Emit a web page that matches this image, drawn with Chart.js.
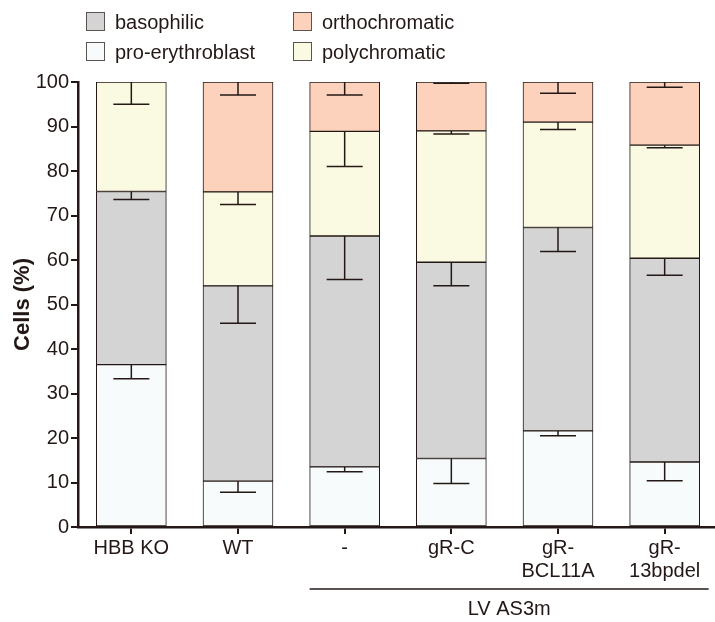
<!DOCTYPE html>
<html>
<head>
<meta charset="utf-8">
<title>Cells (%)</title>
<script src="https://cdn.jsdelivr.net/npm/chart.js@4.4.1/dist/chart.umd.min.js"></script>
<style>
    html, body { margin: 0; padding: 0; background: #fff; overflow: hidden; }
    #wrap { position: relative; width: 718px; height: 622px; }
    #legend { position: absolute; left: 0; top: 0; font-family: 'Liberation Sans', Arial, sans-serif; font-size: 20px; color: #231815; }
    .item { position: absolute; height: 19px; line-height: 19px; white-space: nowrap; }
    .item .box { position: absolute; left: 0; top: 0; width: 19px; height: 19px; box-sizing: border-box; border: 1px solid #5a5350; }
    .item .txt { position: absolute; left: 29px; top: 1px; }
</style>
</head>
<body>
<div id="wrap">
    <canvas id="CellChart"></canvas>
    <div id="legend"></div>
</div>
<script>
const categories = ['HBB KO', 'WT', '-', 'gR-C', ['gR-', 'BCL11A'], ['gR-', '13bpdel']];

// stage percentages per bar, stacked bottom to top
const proErythroblast = [36.5, 10.3, 13.5, 15.4, 21.6, 14.6];
const basophilic = [38.9, 43.9, 51.9, 44.1, 45.7, 45.8];
const polychromatic = [24.6, 21.1, 23.5, 29.5, 23.7, 25.4];
const orthochromatic = [0, 24.7, 11.1, 11.0, 9.0, 14.2];

// SD, drawn downward from the top of each segment
const proErr = [3.2, 2.5, 1.1, 5.6, 1.1, 4.2];
const basoErr = [1.8, 8.4, 9.8, 5.3, 5.4, 3.8];
const polyErr = [5.0, 2.8, 7.9, 0.7, 1.7, 0.6];
const orthoErr = [0, 2.9, 2.9, 0.3, 2.5, 1.2];

const yTicks = [0, 10, 20, 30, 40, 50, 60, 70, 80, 90, 100];

// bracket under the x labels
const groupLabel = 'LV AS3m';
const groupFrom = 2;
const groupTo = 5;

const ink = '#231815';
const font = "'Liberation Sans', Arial, sans-serif";

const datasets = [
    { label: 'pro-erythroblast', data: proErythroblast, errors: proErr, backgroundColor: '#f7fbfc' },
    { label: 'basophilic', data: basophilic, errors: basoErr, backgroundColor: '#d4d4d4' },
    { label: 'polychromatic', data: polychromatic, errors: polyErr, backgroundColor: '#fafae2' },
    { label: 'orthochromatic', data: orthochromatic, errors: orthoErr, backgroundColor: '#fcd2bc' }
];
datasets.forEach(function (ds) {
    ds.borderColor = ink;
    ds.borderWidth = 1;
    ds.borderSkipped = false;
    ds.barThickness = 70;
});

// legend: 2 x 2 grid, [row, col]
const legendSlots = { 'basophilic': [0, 0], 'orthochromatic': [0, 1], 'pro-erythroblast': [1, 0], 'polychromatic': [1, 1] };
const legendEl = document.getElementById('legend');
datasets.forEach(function (ds) {
    const slot = legendSlots[ds.label];
    const item = document.createElement('div');
    item.className = 'item';
    item.style.left = (86 + slot[1] * 207) + 'px';
    item.style.top = (12 + slot[0] * 30) + 'px';
    item.innerHTML = '<div class="box" style="background:' + ds.backgroundColor + '"></div><div class="txt">' + ds.label + '</div>';
    legendEl.appendChild(item);
});

const errorBars = {
    id: 'errorBars',
    afterDatasetsDraw(chart) {
        const ctx = chart.ctx;
        const yScale = chart.scales.y;
        ctx.save();
        ctx.strokeStyle = ink;
        ctx.lineWidth = 1.5;
        chart.data.datasets.forEach(function (ds, i) {
            const meta = chart.getDatasetMeta(i);
            meta.data.forEach(function (bar, j) {
                const err = ds.errors[j];
                if (!err) return;
                let top = 0;
                for (let k = 0; k <= i; k++) top += chart.data.datasets[k].data[j];
                const yEnd = yScale.getPixelForValue(top - err);
                ctx.beginPath();
                ctx.moveTo(bar.x, bar.y);
                ctx.lineTo(bar.x, yEnd);
                ctx.moveTo(bar.x - 18, yEnd);
                ctx.lineTo(bar.x + 18, yEnd);
                ctx.stroke();
            });
        });
        ctx.restore();
    }
};

const groupBracket = {
    id: 'groupBracket',
    afterDraw(chart) {
        const ctx = chart.ctx;
        const xScale = chart.scales.x;
        const x1 = xScale.getPixelForValue(groupFrom) - 35;
        const x2 = xScale.getPixelForValue(groupTo) + 44;
        const y = xScale.top + 62;
        ctx.save();
        ctx.strokeStyle = ink;
        ctx.lineWidth = 1.5;
        ctx.beginPath();
        ctx.moveTo(x1, y);
        ctx.lineTo(x2, y);
        ctx.stroke();
        ctx.fillStyle = ink;
        ctx.font = '20px ' + font;
        ctx.textAlign = 'center';
        ctx.textBaseline = 'middle';
        ctx.fillText(groupLabel, (x1 + x2) / 2, y + 20);
        ctx.restore();
    }
};

const config = {
    type: 'bar',
    data: {
        labels: categories,
        datasets: datasets
    },
    options: {
        responsive: true,
        maintainAspectRatio: false,
        animation: false,
        layout: {
            padding: { top: 82, left: 0, right: 0, bottom: 0 }
        },
        plugins: {
            legend: { display: false },
            tooltip: { enabled: false }
        },
        scales: {
            x: {
                stacked: true,
                afterFit: function (s) { s.height = 95; },
                grid: { display: true, drawOnChartArea: false, offset: false, tickLength: 7, color: ink, lineWidth: 2 },
                border: { display: true, color: ink, width: 2.5 },
                ticks: {
                    color: ink,
                    maxRotation: 0,
                    autoSkip: false,
                    padding: 3,
                    font: { family: font, size: 20, lineHeight: 1.15 }
                }
            },
            y: {
                stacked: true,
                min: 0,
                max: 100,
                afterFit: function (s) { s.width = 78; },
                afterBuildTicks: function (axis) {
                    axis.ticks = yTicks.map(function (v) { return { value: v }; });
                },
                grid: { display: true, drawOnChartArea: false, tickLength: 7, color: ink, lineWidth: 2 },
                border: { display: true, color: ink, width: 2.5 },
                ticks: {
                    color: ink,
                    padding: 2,
                    font: { family: font, size: 20 }
                },
                title: {
                    display: true,
                    text: 'Cells (%)',
                    color: ink,
                    padding: { top: 10, bottom: 0 },
                    font: { family: font, size: 22, weight: 'bold' }
                }
            }
        }
    },
    plugins: [errorBars, groupBracket]
};

new Chart(document.getElementById('CellChart'), config);
</script>
</body>
</html>
